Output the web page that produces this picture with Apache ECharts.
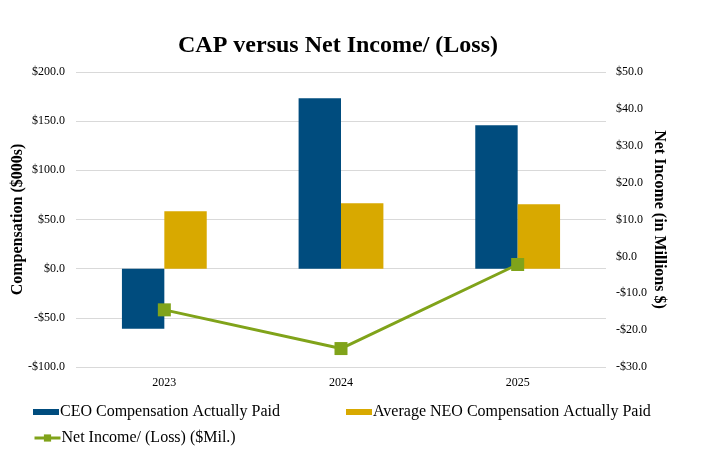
<!DOCTYPE html>
<html>
<head>
<meta charset="utf-8">
<script src="https://cdn.jsdelivr.net/npm/echarts@6/dist/echarts.min.js"></script>
<style>
    html, body { margin: 0; padding: 0; background: #fff; }
    #cap-chart { width: 707px; height: 454px; }
</style>
</head>
<body>
<div id="cap-chart"></div>
<script>
    "use strict";
    var years = ['2023', '2024', '2025'];
    var ceoCap = [-61.1, 173.4, 145.9];
    var neoCap = [58.3, 66.5, 65.5];
    var netIncome = [-14.5, -25.0, -2.2];
    var seriesColor = ['#004c7e', '#d8a900', '#80a31a'];
    var serif = "'Liberation Serif', 'Times New Roman', serif";

    function money(v) {
        return (v < 0 ? '-$' : '$') + Math.abs(v).toFixed(1);
    }

    var legendText = { fontFamily: serif, fontSize: 16, color: '#000', padding: [0, 0, 0, -4] };

    var capChart = echarts.init(document.getElementById('cap-chart'));
    var option = {
        backgroundColor: '#fff',
        textStyle: { fontFamily: serif, color: '#000' },
        title: {
            text: 'CAP versus Net Income/ (Loss)',
            left: 333,
            textAlign: 'center',
            top: 29,
            textStyle: { fontFamily: serif, fontSize: 24, fontWeight: 'bold', color: '#000' }
        },
        legend: [
            {
                data: [{ name: 'CEO Compensation Actually Paid', icon: 'rect' }],
                left: 33, top: 404, padding: 0,
                itemWidth: 26, itemHeight: 6,
                textStyle: legendText
            },
            {
                data: [{ name: 'Average NEO Compensation Actually Paid', icon: 'rect' }],
                left: 346, top: 404, padding: 0,
                itemWidth: 26, itemHeight: 6,
                textStyle: legendText
            },
            {
                data: ['Net Income/ (Loss) ($Mil.)'],
                left: 33, top: 430, padding: 0,
                itemWidth: 26, itemHeight: 9,
                lineStyle: { width: 3 },
                textStyle: legendText
            }
        ],
        grid: { left: 76, right: 101, top: 72, bottom: 87, outerBoundsMode: 'none', containLabel: false },
        xAxis: {
            type: 'category',
            data: years,
            axisLine: { show: false },
            axisTick: { show: false },
            axisLabel: { fontFamily: serif, fontSize: 12, color: '#000', margin: 10 }
        },
        yAxis: [
            {
                type: 'value',
                min: -100, max: 200, interval: 50,
                name: 'Compensation ($000s)',
                nameLocation: 'middle',
                nameGap: 50,
                nameMoveOverlap: false,
                nameTextStyle: { fontFamily: serif, fontSize: 16, fontWeight: 'bold', color: '#000' },
                axisLabel: { fontFamily: serif, fontSize: 12, color: '#000', margin: 11, formatter: money },
                splitLine: { lineStyle: { color: '#d9d9d9' } }
            },
            {
                type: 'value',
                position: 'right',
                min: -30, max: 50, interval: 10,
                name: 'Net Income (in Millions $)',
                nameLocation: 'middle',
                nameGap: 45,
                nameMoveOverlap: false,
                nameRotate: -90,
                nameTextStyle: { fontFamily: serif, fontSize: 16, fontWeight: 'bold', color: '#000' },
                axisLabel: { fontFamily: serif, fontSize: 12, color: '#000', margin: 10, formatter: money },
                splitLine: { show: false }
            }
        ],
        series: [
            {
                name: 'CEO Compensation Actually Paid',
                type: 'bar',
                yAxisIndex: 0,
                data: ceoCap,
                barWidth: '24%',
                barGap: '0%',
                itemStyle: { color: seriesColor[0] }
            },
            {
                name: 'Average NEO Compensation Actually Paid',
                type: 'bar',
                yAxisIndex: 0,
                data: neoCap,
                barWidth: '24%',
                barGap: '0%',
                itemStyle: { color: seriesColor[1] }
            },
            {
                name: 'Net Income/ (Loss) ($Mil.)',
                type: 'line',
                yAxisIndex: 1,
                data: netIncome,
                symbol: 'rect',
                symbolSize: 13,
                lineStyle: { color: seriesColor[2], width: 3 },
                itemStyle: { color: seriesColor[2] },
                z: 5
            }
        ],
        animation: false
    };
    capChart.setOption(option);
</script>
</body>
</html>
